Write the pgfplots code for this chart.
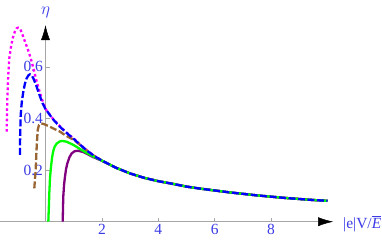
\documentclass[border=0pt]{standalone}
\usepackage{fontspec}
\setmainfont{Liberation Serif}
\usepackage{pgfplots}
\pgfplotsset{compat=1.18}
\usetikzlibrary{arrows.meta}
\definecolor{tickblue}{RGB}{60,60,230}
\definecolor{cmag}{rgb}{1,0,1}
\definecolor{cblue}{rgb}{0,0,1}
\definecolor{cgreen}{rgb}{0,1,0}
\definecolor{cbrown}{rgb}{0.6,0.4,0.2}
\definecolor{cpurple}{rgb}{0.5,0,0.5}
\begin{document}
\begin{tikzpicture}
\begin{axis}[
  x=28.2pt, y=258pt,
  xmin=-1.61, xmax=10.2, ymin=0, ymax=0.762,
  axis lines=middle,
  clip=false,
  axis line style={draw=gray!70, line width=0.5pt},
  x axis line style={-{Latex[length=15pt,width=9pt,color=black]}},
  y axis line style={-{Latex[length=15pt,width=9pt,color=black]}},
  xtick={2,4,6,8}, ytick={0.2,0.4,0.6},
  tick align=inside, major tick length=4pt,
  tick style={draw=gray!70, line width=0.5pt},
  /pgf/number format/assume math mode=true,
  ticklabel style={font=\fontsize{15.5}{17}\selectfont, text=tickblue},
  xticklabel style={yshift=1pt},
  yticklabel style={xshift=1pt, /pgf/number format/fixed, /pgf/number format/precision=1, /pgf/number format/fixed zerofill},
]
\addplot[cmag, line width=2.3pt, dash pattern=on 2.6pt off 2.6pt] coordinates {
(-1.376,0.349) (-1.365,0.42) (-1.355,0.478) (-1.32,0.57) (-1.284,0.633) (-1.22,0.68) (-1.163,0.711) (-1.09,0.736) (-1.02,0.750) (-0.965,0.752) (-0.9,0.747) (-0.85,0.735) (-0.727,0.698) (-0.6,0.66) (-0.489,0.620) (-0.4,0.582) (-0.312,0.543) (-0.22,0.508) (-0.135,0.478) (-0.05,0.452) (0.043,0.43) (0.25,0.401) (0.5,0.371) (0.75,0.345) (1.0,0.322) (1.25,0.297) (1.5,0.274) (1.75,0.254) (2.0,0.237) (2.5,0.209) (3.0,0.187) (3.5,0.170) (4.0,0.157) (4.5,0.147) (5.0,0.136) (5.5,0.128) (6.0,0.121) (6.5,0.114) (7.0,0.108) (7.5,0.102) (8.0,0.097) (8.5,0.092) (9.0,0.088) (9.5,0.084) (10.0,0.081)};
\addplot[cbrown, line width=2.3pt, dash pattern=on 7pt off 2.5pt] coordinates {
(-0.397,0.129) (-0.37,0.17) (-0.348,0.2) (-0.33,0.25) (-0.312,0.291) (-0.277,0.355) (-0.23,0.375) (-0.15,0.381) (-0.05,0.378) (0.1,0.371) (0.3,0.36) (0.5,0.35) (0.7,0.335) (0.9,0.323) (1.0,0.318) (1.25,0.295) (1.5,0.272) (1.75,0.253) (2.0,0.237) (2.5,0.209) (3.0,0.187) (3.5,0.170) (4.0,0.157) (4.5,0.147) (5.0,0.136) (5.5,0.128) (6.0,0.121) (6.5,0.114) (7.0,0.108) (7.5,0.102) (8.0,0.097) (8.5,0.092) (9.0,0.088) (9.5,0.084) (10.0,0.081)};
\addplot[cpurple, line width=2.3pt] coordinates {
(0.61,0) (0.62,0.05) (0.63,0.097) (0.66,0.145) (0.69,0.174) (0.73,0.205) (0.775,0.226) (0.85,0.25) (0.93,0.265) (1.03,0.273) (1.15,0.275) (1.34,0.27) (1.5,0.261) (1.7,0.25) (2.0,0.236) (2.5,0.209) (3.0,0.187) (3.5,0.170) (4.0,0.157) (4.5,0.147) (5.0,0.136) (5.5,0.128) (6.0,0.121) (6.5,0.114) (7.0,0.108) (7.5,0.102) (8.0,0.097) (8.5,0.092) (9.0,0.088) (9.5,0.084) (10.0,0.081)};
\addplot[cgreen, line width=2.3pt] coordinates {
(0.1,0) (0.12,0.06) (0.135,0.11) (0.16,0.17) (0.195,0.213) (0.235,0.25) (0.277,0.275) (0.33,0.292) (0.4,0.303) (0.5,0.311) (0.6,0.313) (0.75,0.31) (1.0,0.297) (1.25,0.28) (1.5,0.264) (1.75,0.25) (2.0,0.237) (2.5,0.209) (3.0,0.187) (3.5,0.170) (4.0,0.157) (4.5,0.147) (5.0,0.136) (5.5,0.128) (6.0,0.121) (6.5,0.114) (7.0,0.108) (7.5,0.102) (8.0,0.097) (8.5,0.092) (9.0,0.088) (9.5,0.084) (10.0,0.081)};
\addplot[cblue, line width=2.3pt, dash pattern=on 7pt off 2.5pt] coordinates {
(-0.904,0.259) (-0.90,0.33) (-0.88,0.414) (-0.84,0.465) (-0.787,0.504) (-0.73,0.535) (-0.667,0.556) (-0.6,0.568) (-0.55,0.571) (-0.49,0.567) (-0.433,0.556) (-0.34,0.532) (-0.255,0.504) (-0.17,0.478) (-0.1,0.458) (0.0,0.437) (0.25,0.399) (0.5,0.369) (0.75,0.344) (1.0,0.321) (1.25,0.296) (1.5,0.273) (1.75,0.253) (2.0,0.237) (2.5,0.209) (3.0,0.187) (3.5,0.170) (4.0,0.157) (4.5,0.147) (5.0,0.136) (5.5,0.128) (6.0,0.121) (6.5,0.114) (7.0,0.108) (7.5,0.102) (8.0,0.097) (8.5,0.092) (9.0,0.088) (9.5,0.084) (10.0,0.081)};
\node[anchor=west, text=tickblue, font=\fontsize{15.5}{17}\selectfont, inner sep=0pt] at (axis cs:10.55,-0.008) {|e|V/$\overline{\textit{E}}$};
\node[text=tickblue, font=\fontsize{16}{18}\selectfont, inner sep=0pt, anchor=base] at (axis cs:0,0.802) {$\eta$};
\coordinate (bbl) at (axis cs:-1.6135,-0.0709);
\coordinate (btr) at (axis cs:11.9326,0.8593);
\end{axis}
\pgfresetboundingbox
\path[use as bounding box] (bbl) rectangle (btr);
\end{tikzpicture}
\end{document}
